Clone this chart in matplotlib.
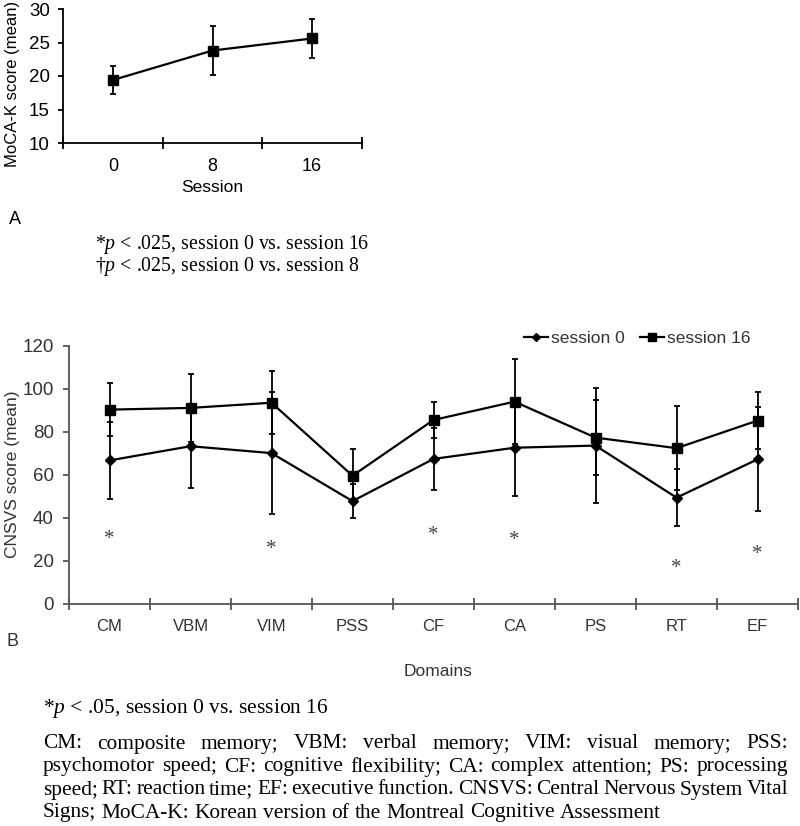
import matplotlib as mpl
mpl.use('Agg')
import matplotlib.pyplot as plt

plt.rcParams['font.family'] = ['Liberation Sans', 'DejaVu Sans']
plt.rcParams['mathtext.fontset'] = 'custom'
plt.rcParams['mathtext.rm'] = 'Liberation Serif'
plt.rcParams['mathtext.it'] = 'Liberation Serif:italic'

# panel A: MoCA-K
sessions = ['0', '8', '16']
moca_mean = [19.4, 23.8, 25.6]
moca_sd = [2.1, 3.7, 2.9]

# panel B: CNSVS domains
domains = ['CM', 'VBM', 'VIM', 'PSS', 'CF', 'CA', 'PS', 'RT', 'EF']
s0_mean = [66.7, 73.3, 70.1, 47.8, 67.4, 72.6, 73.6, 49.4, 67.2]
s0_sd = [17.9, 19.5, 28.5, 7.9, 14.4, 22.3, 26.6, 13.3, 24.2]
s16_mean = [90.3, 91.1, 93.5, 59.6, 85.5, 94.0, 77.3, 72.4, 85.2]
s16_sd = [12.2, 15.9, 14.7, 12.6, 8.5, 19.8, 17.4, 19.6, 13.1]
sig_idx = [0, 2, 4, 5, 7, 8]
sig_y = [33.3, 28.6, 35.3, 33.1, 20.0, 26.3]

note_a = ['*$p$ < .025, session 0 vs. session 16',
          '\u2020$p$ < .025, session 0 vs. session 8']
note_b = '*$p$ < .05, session 0 vs. session 16'
legend_lines = [
    'CM: composite memory; VBM: verbal memory; VIM: visual memory; PSS:',
    'psychomotor speed; CF: cognitive flexibility; CA: complex attention; PS: processing',
    'speed; RT: reaction time; EF: executive function. CNSVS: Central Nervous System Vital',
    'Signs; MoCA-K: Korean version of the Montreal Cognitive Assessment',
]

W, H = 800, 826
fig = plt.figure(figsize=(W / 100, H / 100), dpi=100)


def fx(px):
    return px / W


def fy(py):
    return 1 - py / H


# ---- panel A ----
axa = fig.add_axes([fx(63), fy(143), fx(362) - fx(63), fy(9) - fy(143)])
xa = [i + 0.5 for i in range(len(sessions))]
axa.errorbar(xa, moca_mean, yerr=moca_sd, color='black', lw=1.6, marker='s',
             ms=7, capsize=2.5, elinewidth=1.3, capthick=1.3)
axa.set_xlim(0, len(sessions))
axa.set_ylim(10, 30)
axa.set_yticks([10, 15, 20, 25, 30])
axa.set_xticks(range(len(sessions) + 1))
axa.set_xticklabels([])
axa.set_xticks(xa, minor=True)
axa.set_xticklabels(sessions, minor=True)
axa.tick_params(axis='x', which='major', direction='inout', length=8.5, width=1.3)
axa.tick_params(axis='x', which='minor', length=0, pad=11, labelsize=13)
axa.tick_params(axis='y', direction='out', length=3.5, width=1.3, pad=6, labelsize=13.5)
for s in ['top', 'right']:
    axa.spines[s].set_visible(False)
for s in ['left', 'bottom']:
    axa.spines[s].set_linewidth(1.3)
fig.text(fx(13), fy(84), 'MoCA-K score (mean)', rotation=90, ha='center', va='center', fontsize=12)
fig.text(fx(212), fy(187), 'Session', ha='center', va='center', fontsize=12.5)
fig.text(fx(15), fy(220), 'A', ha='center', va='center', fontsize=13)
fig.text(fx(95), fy(245), note_a[0], ha='left', va='center', fontsize=14.3, family='Liberation Serif')
fig.text(fx(95), fy(266), note_a[1], ha='left', va='center', fontsize=14.3, family='Liberation Serif')

# ---- panel B ----
gray = '#555555'
axb = fig.add_axes([fx(69), fy(604), fx(798) - fx(69), fy(345.7) - fy(604)])
xb = [i + 0.5 for i in range(len(domains))]
axb.errorbar(xb, s0_mean, yerr=s0_sd, color='black', lw=1.6, marker='D', ms=5.5,
             capsize=2, elinewidth=1.3, capthick=1.3, label='session 0')
axb.errorbar(xb, s16_mean, yerr=s16_sd, color='black', lw=1.6, marker='s', ms=7,
             capsize=2, elinewidth=1.3, capthick=1.3, label='session 16')
axb.set_xlim(0, len(domains))
axb.set_ylim(0, 120)
axb.set_yticks(range(0, 121, 20))
axb.set_xticks(range(len(domains) + 1))
axb.set_xticklabels([])
axb.set_xticks(xb, minor=True)
axb.set_xticklabels(domains, minor=True)
axb.tick_params(axis='x', which='major', direction='inout', length=8, width=1.3, color=gray)
axb.tick_params(axis='x', which='minor', length=0, pad=11, labelsize=12, labelcolor='#333333')
axb.tick_params(axis='y', direction='out', length=4, width=1.3, pad=7, labelsize=13.5,
                color=gray, labelcolor='#333333')
for s in ['top', 'right']:
    axb.spines[s].set_visible(False)
for s in ['left', 'bottom']:
    axb.spines[s].set_linewidth(1.3)
    axb.spines[s].set_color(gray)
for i, yv in zip(sig_idx, sig_y):
    axb.annotate('*', (xb[i], yv), xytext=(0, -8.5), textcoords='offset points',
                 ha='center', va='baseline', fontsize=15, color='#444444',
                 family='Liberation Serif')
handles, labels = axb.get_legend_handles_labels()
handles = [h[0] for h in handles]
fig.legend(handles, labels, loc='center', bbox_to_anchor=(fx(637), fy(338)), ncol=2,
           frameon=False, fontsize=12.5, handlelength=1.4, handletextpad=0.15,
           columnspacing=0.9, markerscale=0.75, labelcolor='#333333')
fig.text(fx(13), fy(474), 'CNSVS score (mean)', rotation=90, ha='center', va='center',
         fontsize=12.5, color='#333333')
fig.text(fx(438), fy(672), 'Domains', ha='center', va='center', fontsize=12.5, color='#333333')
fig.text(fx(13), fy(642), 'B', ha='center', va='center', fontsize=13, color='#333333')
fig.text(fx(43), fy(709), note_b, ha='left', va='center', fontsize=15.5, family='Liberation Serif')

# justified abbreviation paragraph
renderer = fig.canvas.get_renderer()
x_left, x_right = 43, 788
line_y = [744, 767, 790, 813]
para_size = 15.4
for k, (line, py) in enumerate(zip(legend_lines, line_y)):
    words = line.split()
    texts = [fig.text(0, fy(py), w, ha='left', va='center', fontsize=para_size,
                      family='Liberation Serif') for w in words]
    widths = [t.get_window_extent(renderer).width for t in texts]
    if k < len(legend_lines) - 1:
        gap = (x_right - x_left - sum(widths)) / (len(words) - 1)
    else:
        gap = para_size * 1.389 * 0.25
    x = x_left
    for t, w in zip(texts, widths):
        t.set_x(fx(x))
        x += w + gap

fig.savefig('out.png', dpi=100)
